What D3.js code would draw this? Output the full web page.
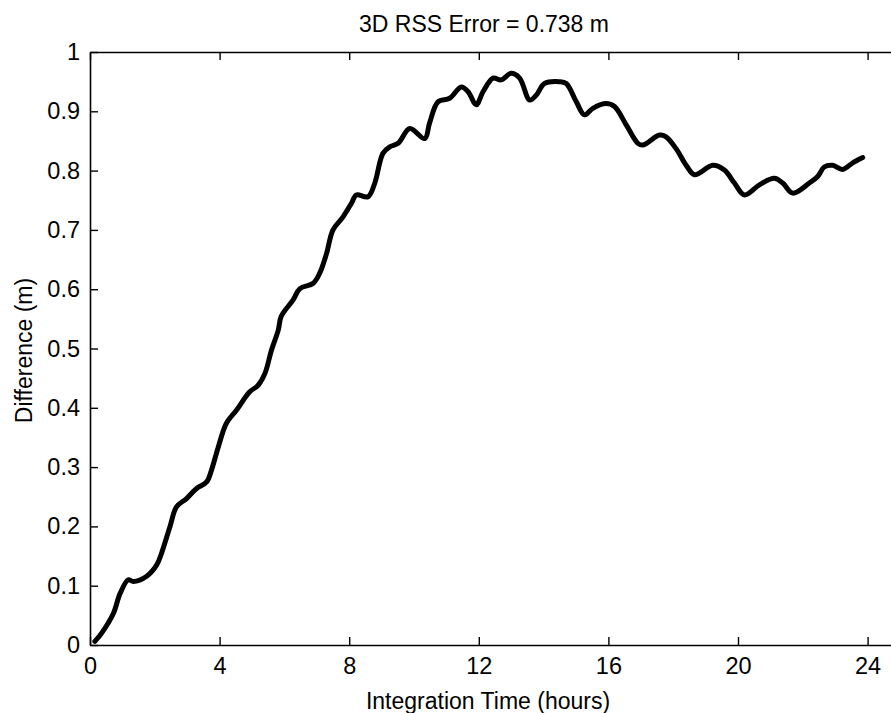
<!DOCTYPE html>
<meta charset="utf-8">
<html>
<head>
<style>
  body { margin: 0; background: #fff; }
  text { font-family: "Liberation Sans", Arial, sans-serif; fill: #000; }
</style>
</head>
<body>
<script src="https://d3js.org/d3.v7.min.js"></script>
<div id="chart"></div>
<script>

// values
var hours = [0.15, 0.36, 0.72, 0.93, 1.18, 1.34, 1.75, 2.06, 2.21, 2.47, 2.67, 2.98, 3.29, 3.60, 3.75, 3.96,
  4.21, 4.52, 4.93, 5.19, 5.40, 5.60, 5.81, 5.90, 6.27, 6.48, 6.89, 7.09, 7.30, 7.50, 7.81, 8.07,
  8.22, 8.58, 8.79, 9.04, 9.25, 9.51, 9.87, 10.33, 10.48, 10.74, 11.10, 11.46, 11.67, 11.92, 12.13,
  12.44, 12.69, 13.00, 13.26, 13.57, 13.77, 14.03, 14.49, 14.70, 15.01, 15.26, 15.52, 15.93, 16.19,
  16.55, 16.91, 17.06, 17.58, 17.78, 18.09, 18.40, 18.66, 19.22, 19.58, 19.89, 20.20, 20.66, 21.12,
  21.38, 21.69, 22.20, 22.46, 22.66, 22.92, 23.23, 23.54, 23.85];
var diff = [0.006, 0.020, 0.053, 0.087, 0.110, 0.107, 0.116, 0.135, 0.155, 0.200, 0.233, 0.247, 0.264, 0.275, 0.295, 0.334,
  0.374, 0.396, 0.427, 0.438, 0.458, 0.497, 0.531, 0.554, 0.582, 0.601, 0.610, 0.627, 0.660, 0.700, 0.722, 0.745,
  0.759, 0.756, 0.779, 0.829, 0.840, 0.846, 0.871, 0.854, 0.880, 0.916, 0.922, 0.941, 0.933, 0.911, 0.933,
  0.956, 0.953, 0.964, 0.956, 0.919, 0.927, 0.947, 0.950, 0.947, 0.916, 0.894, 0.905, 0.913, 0.908,
  0.877, 0.846, 0.843, 0.860, 0.857, 0.837, 0.809, 0.793, 0.809, 0.801, 0.779, 0.759, 0.776, 0.787,
  0.779, 0.762, 0.779, 0.790, 0.806, 0.809, 0.802, 0.813, 0.822];
var xTicks = [0, 4, 8, 12, 16, 20, 24];
var yTicks = [0, 0.1, 0.2, 0.3, 0.4, 0.5, 0.6, 0.7, 0.8, 0.9, 1];

var W = 891, H = 713;
var margin = {top: 52, left: 90, bottom: 68, right: -9};
var width = W - margin.left - margin.right,
    height = H - margin.top - margin.bottom;

var svg = d3.select("#chart").append("svg")
    .attr("width", W).attr("height", H)
    .style("display", "block");

var g = svg.append("g")
    .attr("transform", "translate(" + margin.left + "," + margin.top + ")");

var x = d3.scaleLinear().domain([0, 25]).range([0, width]);
var y = d3.scaleLinear().domain([0, 1]).range([height, 0]);

var data = hours.map(function(h, i) { return {t: h, v: diff[i]}; });

// axes with inward ticks
var bottomAxis = g.append("g")
    .attr("transform", "translate(0," + height + ")")
    .call(d3.axisBottom(x).tickValues(xTicks).tickSizeInner(-8).tickSizeOuter(0).tickPadding(12)
      .tickFormat(d3.format("d")));
var topAxis = g.append("g")
    .call(d3.axisTop(x).tickValues(xTicks).tickSizeInner(-8).tickSizeOuter(0).tickFormat(""));
var leftAxis = g.append("g")
    .call(d3.axisLeft(y).tickValues(yTicks).tickSizeInner(-8).tickSizeOuter(0).tickPadding(10)
      .tickFormat(function(d) { return d === 0 || d === 1 ? d3.format("d")(d) : d3.format(".1f")(d); }));

[bottomAxis, topAxis, leftAxis].forEach(function(a) {
  a.selectAll("path.domain").attr("stroke", "#000").attr("stroke-width", 1.6);
  a.selectAll(".tick line").attr("stroke", "#000").attr("stroke-width", 1.4);
  a.selectAll(".tick text").style("font-size", "23.5px").attr("fill", "#000")
    .style("font-family", "'Liberation Sans', Arial, sans-serif");
});

var line = d3.line()
    .x(function(d) { return x(d.t); })
    .y(function(d) { return y(d.v); })
    .curve(d3.curveCatmullRom);

g.append("path")
    .datum(data)
    .attr("fill", "none")
    .attr("stroke", "#000")
    .attr("stroke-width", 5)
    .attr("stroke-linejoin", "round")
    .attr("stroke-linecap", "round")
    .attr("d", line);

// title and labels
svg.append("text")
    .attr("x", 484).attr("y", 32)
    .attr("text-anchor", "middle")
    .style("font-size", "23px")
    .text("3D RSS Error = 0.738 m");

svg.append("text")
    .attr("x", 488).attr("y", 709)
    .attr("text-anchor", "middle")
    .style("font-size", "23px")
    .text("Integration Time (hours)");

svg.append("text")
    .attr("transform", "translate(32," + (margin.top + height / 2 + 2) + ") rotate(-90)")
    .attr("text-anchor", "middle")
    .style("font-size", "23px")
    .text("Difference (m)");

</script>
</body>
</html>
